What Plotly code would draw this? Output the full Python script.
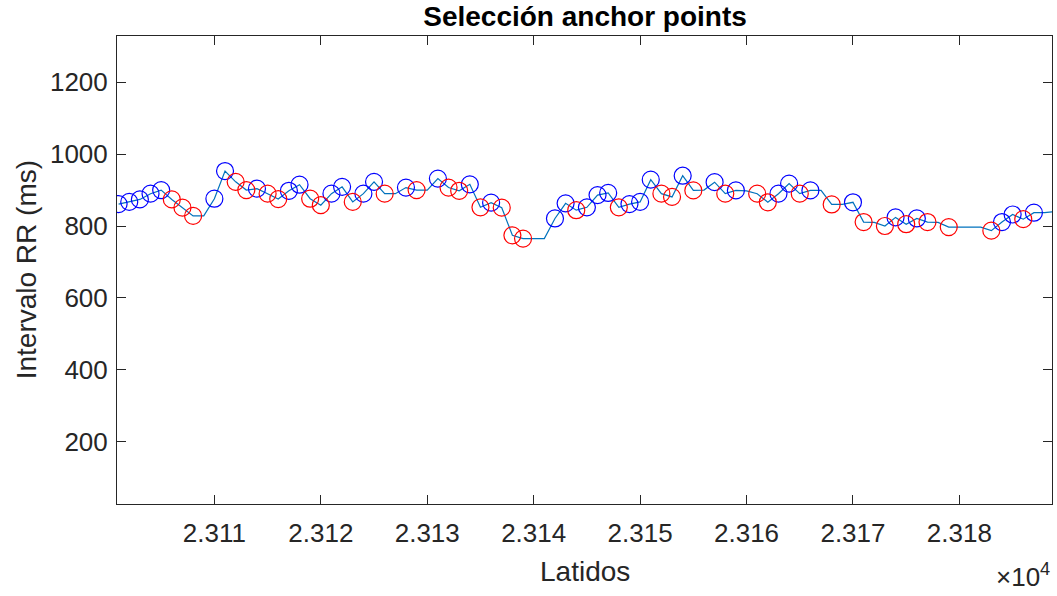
import plotly.graph_objects as go

# Beat numbers (Latidos)
beats = list(range(23101, 23190))
# RR interval (ms) for every beat
rr = [861, 867, 874, 890, 900, 874, 851, 828, 828, 876,
      953, 923, 900, 904, 890, 875, 898, 915, 876, 858,
      890, 909, 867, 890, 923, 890, 890, 907, 900, 900,
      932, 907, 898, 916, 852, 865, 851, 774, 765, 765,
      765, 821, 863, 844, 852, 886, 892, 852, 861, 867,
      929, 890, 881, 940, 899, 900, 922, 890, 899, 898,
      890, 866, 890, 918, 890, 899, 899, 860, 860, 866,
      811, 810, 800, 824, 805, 821, 811, 810, 797, 797,
      797, 797, 787, 811, 832, 819, 837, 837, 840]
# Marker class per beat: 'b' blue, 'r' red, '' none
cls = ['b', 'b', 'b', 'b', 'b', 'r', 'r', 'r', '', 'b',
       'b', 'r', 'r', 'b', 'r', 'r', 'b', 'b', 'r', 'r',
       'b', 'b', 'r', 'b', 'b', 'r', '', 'b', 'r', '',
       'b', 'r', 'r', 'b', 'r', 'b', 'r', 'r', 'r', '',
       '', 'b', 'b', 'r', 'b', 'b', 'b', 'r', 'b', 'b',
       'b', 'r', 'r', 'b', 'r', '', 'b', 'r', 'b', '',
       'r', 'r', 'b', 'b', 'r', 'b', '', 'r', '', 'b',
       'r', '', 'r', 'b', 'r', 'b', 'r', '', 'r', '',
       '', '', 'r', 'b', 'b', 'r', 'b', '', '']

xtick_vals = [23110, 23120, 23130, 23140, 23150, 23160, 23170, 23180]
xtick_text = ["2.311", "2.312", "2.313", "2.314", "2.315", "2.316", "2.317", "2.318"]
ytick_vals = [200, 400, 600, 800, 1000, 1200]

bx = [b for b, c in zip(beats, cls) if c == 'b']
by = [v for v, c in zip(rr, cls) if c == 'b']
rx = [b for b, c in zip(beats, cls) if c == 'r']
ry = [v for v, c in zip(rr, cls) if c == 'r']

FONT = "Liberation Sans, Arial, sans-serif"
AX = "#262626"

fig = go.Figure()
fig.add_trace(go.Scatter(x=beats, y=rr, mode="lines",
                         line=dict(color="#0072BD", width=1.2), showlegend=False))
fig.add_trace(go.Scatter(x=bx, y=by, mode="markers",
                         marker=dict(symbol="circle-open", size=17,
                                     line=dict(color="#0000FF", width=1.2), color="#0000FF"),
                         showlegend=False))
fig.add_trace(go.Scatter(x=rx, y=ry, mode="markers",
                         marker=dict(symbol="circle-open", size=17,
                                     line=dict(color="#FF0000", width=1.2), color="#FF0000"),
                         showlegend=False))

fig.update_layout(
    width=1057, height=596,
    margin=dict(l=117, r=5, t=36, b=92),
    paper_bgcolor="white", plot_bgcolor="white",
    font=dict(family=FONT, color=AX, size=26),
    title=dict(text="<b>Selección anchor points</b>", x=0.5535, xanchor="center",
               y=0.973, yanchor="middle", font=dict(size=28, color="#000000", family=FONT)),
    xaxis=dict(range=[23100.85, 23188.7], tickvals=xtick_vals, ticktext=xtick_text,
               ticks="inside", ticklen=9, tickwidth=1, tickcolor=AX,
               showline=True, linecolor=AX, linewidth=1, mirror="ticks",
               showgrid=False, zeroline=False, tickfont=dict(size=26, color=AX),
               ticklabelstandoff=6),
    yaxis=dict(range=[26, 1329], tickvals=ytick_vals,
               ticks="inside", ticklen=9, tickwidth=1, tickcolor=AX,
               showline=True, linecolor=AX, linewidth=1, mirror="ticks",
               showgrid=False, zeroline=False, tickfont=dict(size=26, color=AX),
               ticklabelstandoff=3),
)

fig.add_annotation(text="Latidos", xref="paper", yref="paper", x=0.5, y=-0.145,
                   xanchor="center", yanchor="middle", showarrow=False,
                   font=dict(size=28, color=AX, family=FONT))
fig.add_annotation(text="Intervalo RR (ms)", xref="paper", yref="paper", x=-0.097, y=0.5,
                   xanchor="center", yanchor="middle", textangle=-90, showarrow=False,
                   font=dict(size=28, color=AX, family=FONT))
fig.add_annotation(text="×10<sup>4</sup>", xref="paper", yref="paper", x=1.0, y=-0.153,
                   xanchor="right", yanchor="middle", showarrow=False,
                   font=dict(size=26, color=AX, family=FONT))

fig.write_html("out.html")
